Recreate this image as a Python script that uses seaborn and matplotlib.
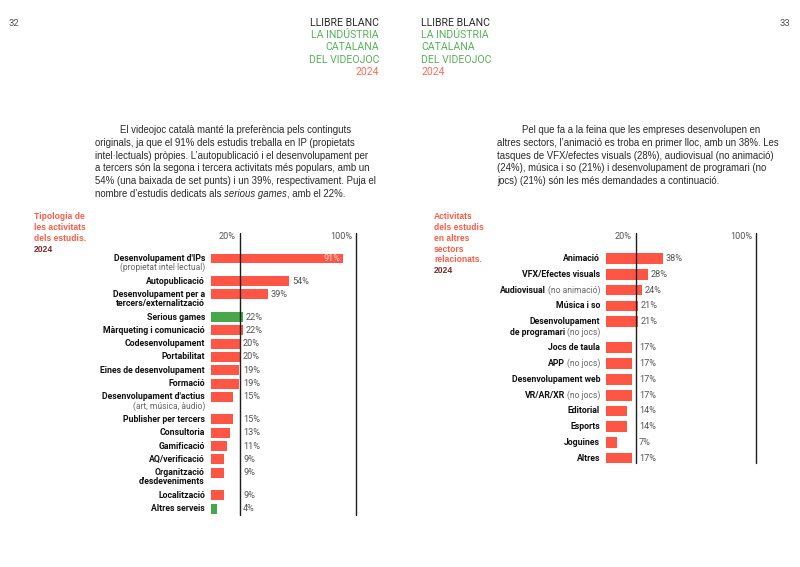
import numpy as np
import pandas as pd
import matplotlib.pyplot as plt
import matplotlib.transforms as mtransforms
from matplotlib import font_manager
import seaborn as sns

# Dades del gràfic esquerre (tipologia d'activitats)
left_labels = ["Desenvolupament d'IPs\n(propietat intel·lectual)", "Autopublicació",
               "Desenvolupament per a\ntercers/externalització", "Serious games",
               "Màrqueting i comunicació", "Codesenvolupament", "Portabilitat",
               "Eines de desenvolupament", "Formació", "Desenvolupament d'actius\n(art, música, àudio)",
               "Publisher per tercers", "Consultoria", "Gamificació", "AQ/verificació",
               "Organització\nd'esdeveniments", "Localització", "Altres serveis"]
left_values = [91, 54, 39, 22, 22, 20, 20, 19, 19, 15, 15, 13, 11, 9, 9, 9, 4]
left_groups = ['r', 'r', 'r', 'g', 'r', 'r', 'r', 'r', 'r', 'r', 'r', 'r', 'r', 'r', 'r', 'r', 'g']

# Dades del gràfic dret (altres sectors)
right_labels = ["Animació", "VFX/Efectes visuals", "Audiovisual (no animació)", "Música i so",
                "Desenvolupament\nde programari (no jocs)", "Jocs de taula", "APP (no jocs)",
                "Desenvolupament web", "VR/AR/XR (no jocs)", "Editorial", "Esports", "Joguines", "Altres"]
right_values = [38, 28, 24, 21, 21, 17, 17, 17, 17, 14, 14, 7, 17]
right_groups = ['r'] * len(right_values)

ref_lines = [20, 100]
ref_labels = ['20%', '100%']

left_title = ['Tipologia de', 'les activitats', 'dels estudis.']
right_title = ['Activitats', 'dels estudis', 'en altres', 'sectors', 'relacionats.']
title_year = '2024'

header_lines = ['LLIBRE BLANC', 'LA INDÚSTRIA', 'CATALANA', 'DEL VIDEOJOC', '2024']
page_numbers = ['32', '33']

left_par = [[("El videojoc català manté la preferència pels continguts", 'normal')],
            [("originals, ja que el 91% dels estudis treballa en IP (propietats", 'normal')],
            [("intel·lectuals) pròpies. L’autopublicació i el desenvolupament per", 'normal')],
            [("a tercers són la segona i tercera activitats més populars, amb un", 'normal')],
            [("54% (una baixada de set punts) i un 39%, respectivament. Puja el", 'normal')],
            [("nombre d’estudis dedicats als", 'normal'), ("serious games", 'italic'),
             (", amb el 22%.", 'normal')]]
right_par = [[("Pel que fa a la feina que les empreses desenvolupen en", 'normal')],
             [("altres sectors, l’animació es troba en primer lloc, amb un 38%. Les", 'normal')],
             [("tasques de VFX/efectes visuals (28%), audiovisual (no animació)", 'normal')],
             [("(24%), música i so (21%) i desenvolupament de programari (no", 'normal')],
             [("jocs) (21%) són les més demandades a continuació.", 'normal')]]

# Estil
sns.set_style('white')
plt.rcParams['font.family'] = ['Liberation Sans', 'DejaVu Sans']

installed = {f.name for f in font_manager.fontManager.ttflist}
if 'Liberation Sans Narrow' in installed:
    LAB_FONT = ['Liberation Sans Narrow', 'DejaVu Sans']
else:
    LAB_FONT = ['Roboto', 'DejaVu Sans']
HEAD_FONT = ['Roboto', 'DejaVu Sans']
BODY_FONT = ['Liberation Sans', 'DejaVu Sans']

RED = '#ff5544'
GREEN = '#46a84b'
DARK = '#1e1e1e'
NOTE = '#666666'
TITLE_RED = '#ff5a45'
TITLE_YEAR = '#7e2a2a'

W, H = 800, 567
fig = plt.figure(figsize=(8, 5.67), dpi=100)
renderer = fig.canvas.get_renderer()


def fx(px):
    return px / W


def fy(py):
    return 1 - py / H


def fit_size(text, target_px, **kw):
    t = fig.text(0, 0, text, fontsize=10, **kw)
    w = t.get_window_extent(renderer).width
    t.remove()
    return 10 * target_px / w


LAB_SIZE = fit_size("Desenvolupament d'IPs", 92, family=LAB_FONT, fontweight='bold')
NOTE_SIZE = fit_size("(propietat intel·lectual)", 86, family=LAB_FONT)
VAL_SIZE = fit_size("54%", 17, family=LAB_FONT)
HEAD_SIZE = fit_size("LLIBRE BLANC", 69, family=HEAD_FONT)
BODY_SIZE = fit_size("originals, ja que el 91% dels estudis treballa en IP (propietats", 262,
                     family=BODY_FONT)
TITLE_SIZE = fit_size("les activitats", 51, family=BODY_FONT, fontweight='bold')


def draw_segments(x, y, segs, size, color='#2a2a2a'):
    space = size * 100 / 72 * 0.278
    for k, (txt, style) in enumerate(segs):
        t = fig.text(fx(x), fy(y), txt, fontstyle=style, fontsize=size, color=color,
                     va='center', ha='left', family=BODY_FONT)
        x += t.get_window_extent(renderer).width
        # espai entre segments quan el següent no comença amb puntuació
        if k + 1 < len(segs) and segs[k + 1][0][0].isalnum():
            x += space


# Capçalera
for i, (txt, col) in enumerate(zip(header_lines, ['#2a2a2a', '#56b35a', '#56b35a', '#56b35a', '#ff6b5c'])):
    y = 23 + i * 12.2
    fig.text(fx(379), fy(y), txt, ha='right', va='center', fontsize=HEAD_SIZE, color=col,
             family=HEAD_FONT)
    fig.text(fx(421), fy(y), txt, ha='left', va='center', fontsize=HEAD_SIZE, color=col,
             family=HEAD_FONT)
fig.text(fx(9), fy(23), page_numbers[0], ha='left', va='center', fontsize=HEAD_SIZE * 0.9,
         color='#555555', family=HEAD_FONT)
fig.text(fx(790), fy(23), page_numbers[1], ha='right', va='center', fontsize=HEAD_SIZE * 0.9,
         color='#555555', family=HEAD_FONT)

# Paràgrafs
for i, segs in enumerate(left_par):
    draw_segments(120 if i == 0 else 95, 130 + i * 12.8, segs, BODY_SIZE)
for i, segs in enumerate(right_par):
    draw_segments(522 if i == 0 else 497, 130 + i * 12.8, segs, BODY_SIZE)

# Títols dels gràfics
for x0, lines in [(34, left_title), (434, right_title)]:
    for i, txt in enumerate(lines):
        fig.text(fx(x0), fy(217 + i * 10.7), txt, ha='left', va='center', fontsize=TITLE_SIZE,
                 color=TITLE_RED, fontweight='bold', family=BODY_FONT)
    fig.text(fx(x0), fy(217 + len(lines) * 10.7), title_year, ha='left', va='center',
             fontsize=TITLE_SIZE, color=TITLE_YEAR, fontweight='bold', family=BODY_FONT)


def row_positions(labels, extra):
    pos, cur = [], 0.0
    for lab in labels:
        pos.append(cur)
        cur += 1 + extra * lab.count('\n')
    return pos


def split_label(line):
    if '(' in line:
        k = line.index('(')
        return line[:k].strip(), line[k:]
    return line, ''


def draw_chart(labels, values, groups, box, unit, row0, extra, label_x, line2_dy, width):
    left, top, right, bottom = box
    ax = fig.add_axes([fx(left), fy(bottom), fx(right) - fx(left), (bottom - top) / H])
    pos = row_positions(labels, extra)
    df = pd.DataFrame({'value': values, 'pos': pos, 'group': groups})
    sns.barplot(data=df, x='value', y='pos', hue='group', palette={'r': RED, 'g': GREEN},
                orient='h', native_scale=True, width=width, dodge=False, legend=False,
                saturation=1, linewidth=0, ax=ax)
    ax.set_xlim(0, 100)
    ax.set_ylim((bottom - row0) / unit, (top - row0) / unit)
    ax.set_xticks([])
    ax.set_yticks([])
    ax.set_xlabel('')
    ax.set_ylabel('')
    for s in ax.spines.values():
        s.set_visible(False)
    ax.patch.set_alpha(0)
    for v in ref_lines:
        ax.axvline(v, color=DARK, lw=1.0, clip_on=False)
    scale = (right - left) / 100
    for v, lab in zip(ref_lines, ref_labels):
        fig.text(fx(left + v * scale - 4), fy(237), lab, ha='right', va='center',
                 fontsize=VAL_SIZE, color='#555555', family=LAB_FONT)

    trans = mtransforms.blended_transform_factory(fig.transFigure, ax.transData)
    gap = LAB_SIZE * 100 / 72 * 0.2
    for p, lab in zip(pos, labels):
        for j, line in enumerate(lab.split('\n')):
            main, note = split_label(line)
            dy = -line2_dy * j
            xoff = 0
            if note:
                t = ax.text(fx(label_x), p, note, transform=mtransforms.offset_copy(
                    trans, fig=fig, x=0, y=dy, units='dots'), ha='right', va='center',
                    fontsize=NOTE_SIZE, color=NOTE, family=LAB_FONT)
                xoff = t.get_window_extent(renderer).width + (gap if main else 0)
            if main:
                ax.text(fx(label_x), p, main, transform=mtransforms.offset_copy(
                    trans, fig=fig, x=-xoff, y=dy, units='dots'), ha='right', va='center',
                    fontsize=LAB_SIZE, color='#111111', fontweight='bold', family=LAB_FONT)

    for p, v in zip(pos, values):
        if v > 80:
            ax.text(v, p, f'{v}%', transform=mtransforms.offset_copy(
                ax.transData, fig=fig, x=-2, y=0, units='dots'), ha='right', va='center',
                fontsize=VAL_SIZE, color='#ffd2ca', family=LAB_FONT)
        else:
            ax.text(max(v, 20), p, f'{v}%', transform=mtransforms.offset_copy(
                ax.transData, fig=fig, x=3, y=0, units='dots'), ha='left', va='center',
                fontsize=VAL_SIZE, color='#555555', family=LAB_FONT)
    return ax


draw_chart(left_labels, left_values, left_groups, (211, 233, 356, 515), 13.3, 258.5, 0.7,
           205, 9, 0.75)
draw_chart(right_labels, right_values, right_groups, (606, 233, 756, 463), 15.8, 258.5, 0.65,
           600, 11, 0.68)

fig.savefig('out.png', dpi=100)
